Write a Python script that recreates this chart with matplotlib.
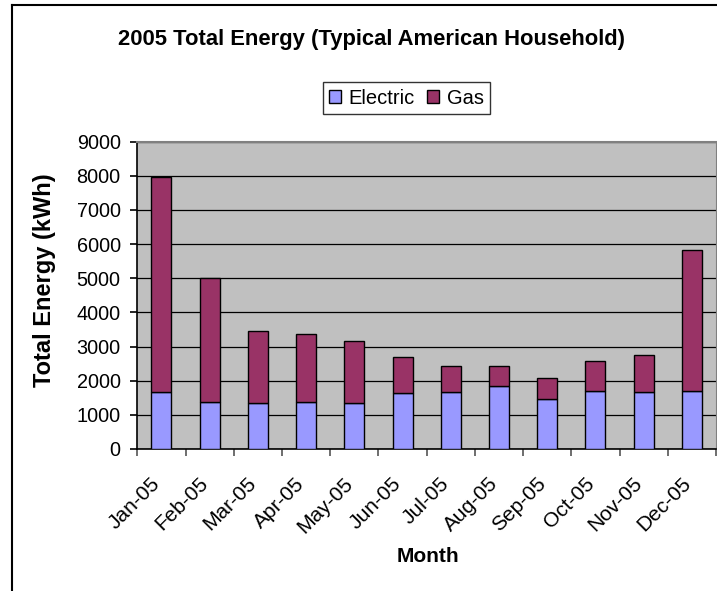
import matplotlib
matplotlib.use("Agg")
import matplotlib.pyplot as plt
import matplotlib.transforms as mtransforms
import numpy as np

months = ["Jan-05", "Feb-05", "Mar-05", "Apr-05", "May-05", "Jun-05",
          "Jul-05", "Aug-05", "Sep-05", "Oct-05", "Nov-05", "Dec-05"]
electric = [1660, 1380, 1340, 1380, 1340, 1630, 1670, 1835, 1475, 1710, 1670, 1710]
total = [7955, 5005, 3445, 3360, 3155, 2705, 2420, 2420, 2080, 2590, 2745, 5830]
gas = [t - e for t, e in zip(total, electric)]
yticks = [0, 1000, 2000, 3000, 4000, 5000, 6000, 7000, 8000, 9000]

plt.rcParams['font.family'] = ['Liberation Sans', 'DejaVu Sans']

W, H = 717, 591
fig = plt.figure(figsize=(W / 100, H / 100), dpi=100)
fig.patch.set_facecolor('white')

# outer frame (left/top edges visible)
fig.add_artist(plt.Line2D([11.5 / W, 11.5 / W], [0, 1 - 4.5 / H], transform=fig.transFigure,
                          color='black', lw=1.5))
fig.add_artist(plt.Line2D([11.5 / W, 1], [1 - 4.5 / H, 1 - 4.5 / H], transform=fig.transFigure,
                          color='black', lw=1.5))

left, right, top, bottom = 137.3, 716, 141.7, 449
ax = fig.add_axes([left / W, 1 - bottom / H, (right - left) / W, (bottom - top) / H])
ax.set_facecolor('#C0C0C0')

x = np.arange(len(months))
ax.bar(x, electric, width=0.414, color='#9999FF', edgecolor='black', linewidth=1.0,
       label='Electric', zorder=3)
ax.bar(x, gas, bottom=electric, width=0.414, color='#993366', edgecolor='black',
       linewidth=1.0, label='Gas', zorder=3)

ax.set_xlim(-0.5, len(months) - 0.5)
ax.set_ylim(0, 9000)
ax.set_yticks(yticks)
ax.set_yticklabels([str(v) for v in yticks], fontsize=14.3)
ax.yaxis.grid(True, color='black', linewidth=0.9, zorder=1)
ax.set_axisbelow(True)

# category boundary ticks, labels at category centres
ax.set_xticks(np.arange(len(months) + 1) - 0.5)
ax.set_xticklabels([])
lbl_tr = ax.get_xaxis_transform() + mtransforms.ScaledTranslation(-11 / 100, -25 / 100,
                                                                    fig.dpi_scale_trans)
for i, m in enumerate(months):
    ax.text(x[i], 0, m, transform=lbl_tr, rotation=45, ha='right', va='top',
            rotation_mode='anchor', fontsize=15, clip_on=False)
ax.tick_params(axis='x', which='major', length=5, color='#555555', width=1.2, direction='out')
ax.tick_params(axis='y', length=5, width=1.2, direction='out', pad=7)

for s in ['left', 'bottom']:
    ax.spines[s].set_color('black')
    ax.spines[s].set_linewidth(1.2)
ax.spines['top'].set_color('#808080')
ax.spines['right'].set_color('#808080')
ax.spines['top'].set_linewidth(1.5)

ax.set_ylabel('Total Energy (kWh)', fontsize=17, fontweight='bold')
ax.yaxis.label.set_va('center')
ax.yaxis.set_label_coords(45 / W, 1 - 280.5 / H, transform=fig.transFigure)

fig.text(427.7 / W, 1 - 556.7 / H, 'Month', fontsize=15, fontweight='bold',
         ha='center', va='center')
fig.text(372 / W, 1 - 40 / H, '2005 Total Energy (Typical American Household)',
         fontsize=15.8, fontweight='bold', ha='center', va='center')

leg = fig.legend(loc='center', bbox_to_anchor=(406.5 / W, 1 - 98 / H), ncol=2,
                 fontsize=14.5, frameon=True, fancybox=False, edgecolor='black',
                 handlelength=0.6, handleheight=0.6, handletextpad=0.4, columnspacing=0.6,
                 borderpad=0.3, borderaxespad=0)
leg.get_frame().set_linewidth(1.0)

fig.savefig('out.png', dpi=100, facecolor='white')
